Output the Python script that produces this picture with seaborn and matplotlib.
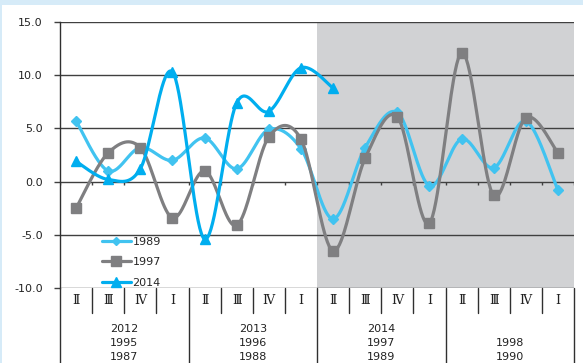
import numpy as np
import pandas as pd
import matplotlib
matplotlib.use("Agg")
import matplotlib.pyplot as plt
from matplotlib.lines import Line2D
from matplotlib.patches import Rectangle
import seaborn as sns

# Quarterly values by series
quarters = ["Ⅱ", "Ⅲ", "Ⅳ", "Ⅰ"] * 4
year_groups = ["2012\n1995\n1987", "2013\n1996\n1988", "2014\n1997\n1989", "\n1998\n1990"]
s1989 = [5.7, 1.0, 3.2, 2.0, 4.1, 1.2, 4.9, 3.1, -3.5, 3.2, 6.5, -0.4, 4.0, 1.3, 5.7, -0.8]
s1997 = [-2.5, 2.7, 3.2, -3.4, 1.0, -4.1, 4.2, 4.0, -6.5, 2.2, 6.1, -3.9, 12.1, -1.3, 6.0, 2.7]
s2014 = [1.9, 0.2, 1.2, 10.3, -5.4, 7.4, 6.6, 10.7, 8.8]
y_ticks = [-10, -5, 0, 5, 10, 15]

series = {"1989": s1989, "1997": s1997, "2014": s2014}
colors = {"1989": "#41C3F0", "1997": "#7F7F81", "2014": "#00AEEF"}
markers = {"1989": "D", "1997": "s", "2014": "^"}
msizes = {"1989": 5.5, "1997": 7.5, "2014": 7.5}


def catmull_rom(x, y, n=40):
    """Smooth curve through points (uniform Catmull-Rom, like spreadsheet smoothing)."""
    P = np.column_stack([x, y]).astype(float)
    P = np.vstack([P[0], P, P[-1]])
    out = []
    for i in range(1, len(P) - 2):
        p0, p1, p2, p3 = P[i - 1], P[i], P[i + 1], P[i + 2]
        t = np.linspace(0, 1, n, endpoint=False)[:, None]
        seg = 0.5 * ((2 * p1) + (-p0 + p2) * t + (2 * p0 - 5 * p1 + 4 * p2 - p3) * t ** 2
                     + (-p0 + 3 * p1 - 3 * p2 + p3) * t ** 3)
        out.append(seg)
    out.append(P[-2][None, :])
    return np.vstack(out)


sns.set_style("white")
plt.rcParams["font.family"] = ["DejaVu Sans"]

W, H = 583, 363
fig = plt.figure(figsize=(W / 100, H / 100), dpi=100)
fig.patch.set_facecolor("white")
band = "#D6EBF8"
fig.patches.append(Rectangle((0, 1 - 5 / H), 1, 5 / H, transform=fig.transFigure,
                             facecolor=band, edgecolor="none", zorder=0))
fig.patches.append(Rectangle((0, 0), 2 / W, 1, transform=fig.transFigure,
                             facecolor=band, edgecolor="none", zorder=0))

L, R, T, B = 60, 574, 22, 288
ax = fig.add_axes([L / W, 1 - B / H, (R - L) / W, (B - T) / H])
ax.set_facecolor("white")

n = len(quarters)
ax.set_xlim(-0.5, n - 0.5)
ax.set_ylim(-10, 15)

# shaded forecast region
ax.axvspan(7.5, n - 0.5, color="#D1D2D4", zorder=0, lw=0)

# horizontal gridlines
for v in y_ticks:
    if v != 0:
        ax.axhline(v, color="#404040", lw=1.0, zorder=1)

# smooth lines + markers
order = ["1989", "1997", "2014"]
for k, name in enumerate(order):
    vals = series[name]
    xs = np.arange(len(vals))
    curve = catmull_rom(xs, vals)
    cdf = pd.DataFrame({"x": curve[:, 0], "y": curve[:, 1]})
    sns.lineplot(data=cdf, x="x", y="y", sort=False, color=colors[name], lw=2.3,
                 ax=ax, zorder=3 + k, legend=False)
    pdf = pd.DataFrame({"x": xs, "y": vals})
    ax.plot(pdf["x"], pdf["y"], ls="none", marker=markers[name], ms=msizes[name],
            color=colors[name], zorder=3.5 + k)

# zero axis with category tick marks
ax.axhline(0, color="#404040", lw=1.0, zorder=2)
ax.vlines(np.arange(n + 1) - 0.5, -0.35, 0, color="#404040", lw=1.0, zorder=2)

# y axis
ax.set_yticks(y_ticks)
ax.set_yticklabels([f"{v:.1f}" for v in y_ticks], fontsize=8, color="#222222")
ax.tick_params(axis="y", length=4, width=1.0, color="#404040", pad=8.5, left=True)
ax.set_xticks([])
ax.set_xlabel("")
ax.set_ylabel("")
for s in ["top", "right", "bottom"]:
    ax.spines[s].set_visible(False)
ax.spines["left"].set_color("#303030")
ax.spines["left"].set_linewidth(1.0)

# category table below the plot
tr = ax.get_xaxis_transform()
ax_h = B - T
bottom_full = -(H - B) / ax_h
bottom_q = -(313 - B) / ax_h
for i in range(n + 1):
    xb = i - 0.5
    y0 = bottom_full if i % 4 == 0 else bottom_q
    ax.plot([xb, xb], [0, y0], transform=tr, color="#303030", lw=1.0, clip_on=False)
for i, q in enumerate(quarters):
    ax.text(i, -(301 - B) / ax_h, q, transform=tr, ha="center", va="center",
            fontsize=9, family=["Liberation Serif", "DejaVu Serif"], color="#222222")
for g, lab in enumerate(year_groups):
    ax.text(g * 4 + 1.5, -(343 - B) / ax_h, lab, transform=tr, ha="center", va="center",
            fontsize=8, color="#222222", linespacing=1.45)

# legend
handles = [Line2D([0], [0], color=colors[nm], lw=2.3, marker=markers[nm], ms=msizes[nm] - 1)
           for nm in order]
leg = ax.legend(handles, order, loc="upper left", bbox_to_anchor=(0.073, 0.21),
                frameon=False, fontsize=8, handlelength=2.6, handletextpad=0.15,
                labelspacing=0.95, borderaxespad=0)

fig.savefig("out.png", dpi=100, facecolor=fig.get_facecolor())
